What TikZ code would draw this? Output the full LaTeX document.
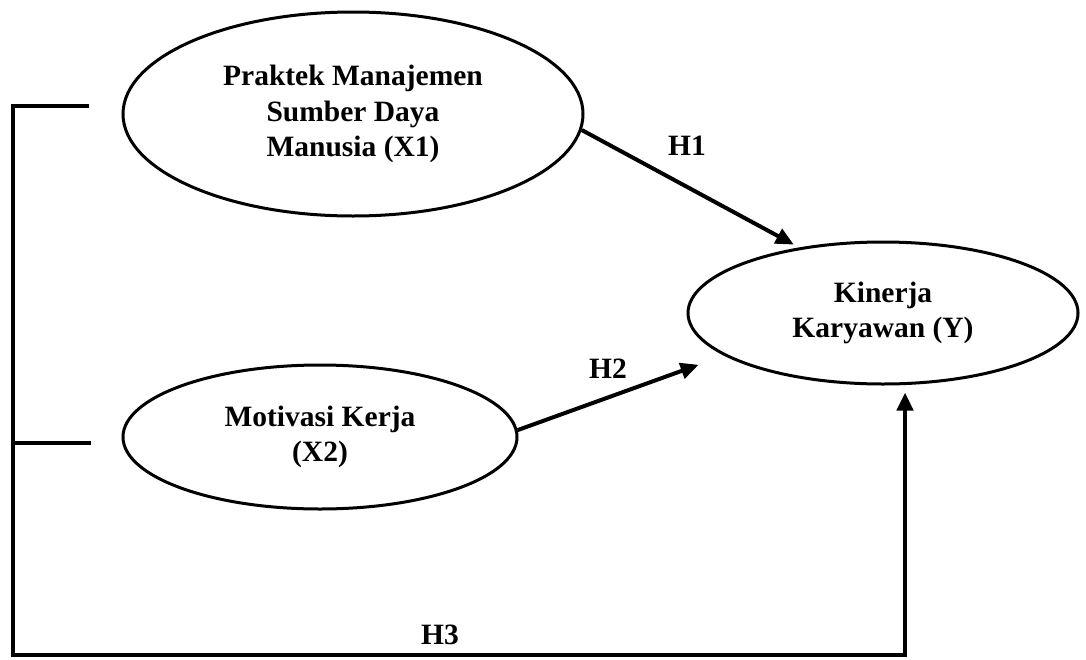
\documentclass[tikz,border=0pt]{standalone}
\usepackage{fontspec}
\setmainfont{Liberation Serif}
\usetikzlibrary{shapes.geometric,arrows.meta}
\begin{document}
\begin{tikzpicture}[x=1pt,y=-1pt,
  var/.style={ellipse,draw,line width=3pt,inner sep=0pt,align=center,
    font=\fontsize{29.5}{35.5}\selectfont\bfseries},
  link/.style={line width=4pt,-{Triangle[length=18pt,width=16pt]}},
  bar/.style={line width=4.5pt},
  hlab/.style={font=\fontsize{29.5}{35.5}\selectfont\bfseries,inner sep=0pt}]
\useasboundingbox (0,0) rectangle (1086,659);
\node[var,minimum width=460pt,minimum height=204pt] (X1) at (353,114)
  {Praktek Manajemen\\Sumber Daya\\Manusia (X1)};
\node[var,minimum width=394pt,minimum height=144pt] (X2) at (320,437)
  {Motivasi Kerja\\(X2)};
\node[var,minimum width=390pt,minimum height=142pt] (Y) at (883,313)
  {Kinerja\\Karyawan (Y)};
\coordinate (b1) at (89,106);
\coordinate (b2) at (91,443);
\coordinate (bl) at (13,655);
\coordinate (br) at (905,655);
\draw[link,shorten >=6pt] (X1.-4) -- (Y.142);
\draw[link,shorten >=27pt] (X2.2) -- (Y.195);
\draw[link,line width=4.5pt,line join=miter,shorten >=7pt] (b1) -| (bl) -- (br) -- (br |- Y.south);
\draw[bar] (b2) -- (b2 -| bl);
\node[hlab] (h1) at (687,146) {H1};
\node[hlab] (h2) at (608,369) {H2};
\node[hlab] (h3) at (440,635) {H3};
\end{tikzpicture}
\end{document}
